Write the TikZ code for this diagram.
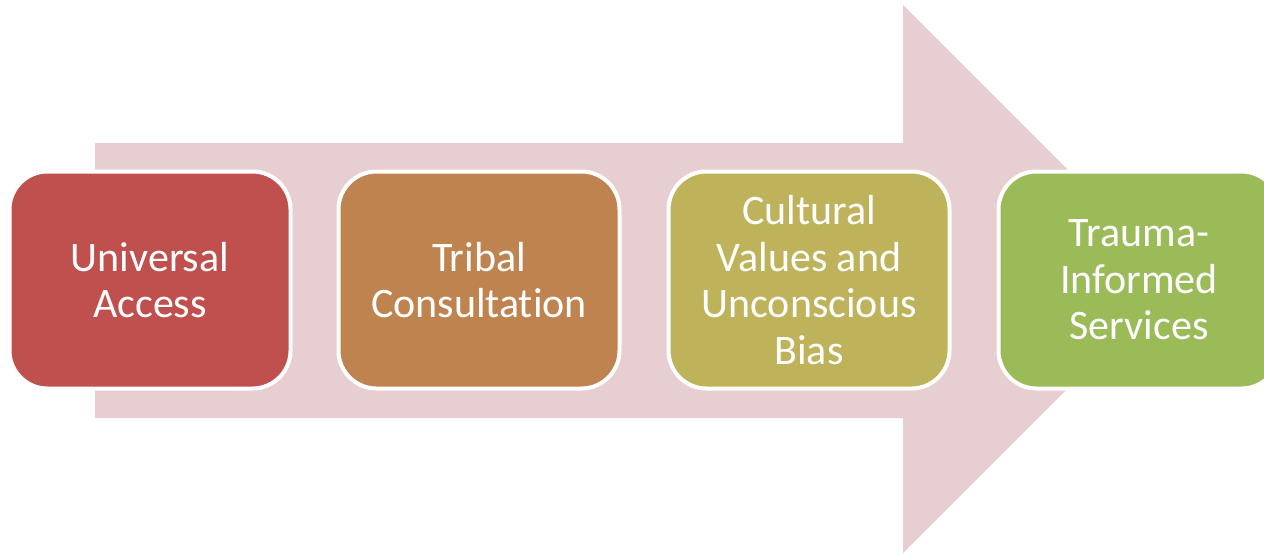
\documentclass[tikz,border=0pt]{standalone}
\usepackage{fontspec}
\setmainfont[Ligatures={NoCommon}]{Carlito}
\definecolor{arrowpink}{HTML}{E7CFD1}
\definecolor{cA}{HTML}{C0504D}
\definecolor{cB}{HTML}{BF834F}
\definecolor{cC}{HTML}{BEB35A}
\definecolor{cD}{HTML}{9BBB59}
\tikzset{
  stagebox/.style={draw=white, line width=4pt, rounded corners=38pt,
    minimum width=281pt, minimum height=217pt, text=white, align=center,
    inner sep=0pt, font=\fontsize{42}{46.5}\selectfont},
}
\begin{document}
\begin{tikzpicture}[x=1pt,y=-1pt]
\useasboundingbox (0,0) rectangle (1264,555);
\fill[white] (0,0) rectangle (1264,555);
\fill[arrowpink] (95,143) -- (903,143) -- (903,5) -- (1177,279) -- (903,553) -- (903,418) -- (95,418) -- cycle;
\node[stagebox, fill=cA] (n1) at (150,280) {Universal\\Access};
\node[stagebox, fill=cB] (n2) at (479,280) {Tribal\\Consultation};
\node[stagebox, fill=cC] (n3) at (809,280) {Cultural\\Values and\\Unconscious\\Bias};
\node[stagebox, fill=cD] (n4) at (1139,280) {Trauma-\\Informed\\Services};
\end{tikzpicture}
\end{document}
